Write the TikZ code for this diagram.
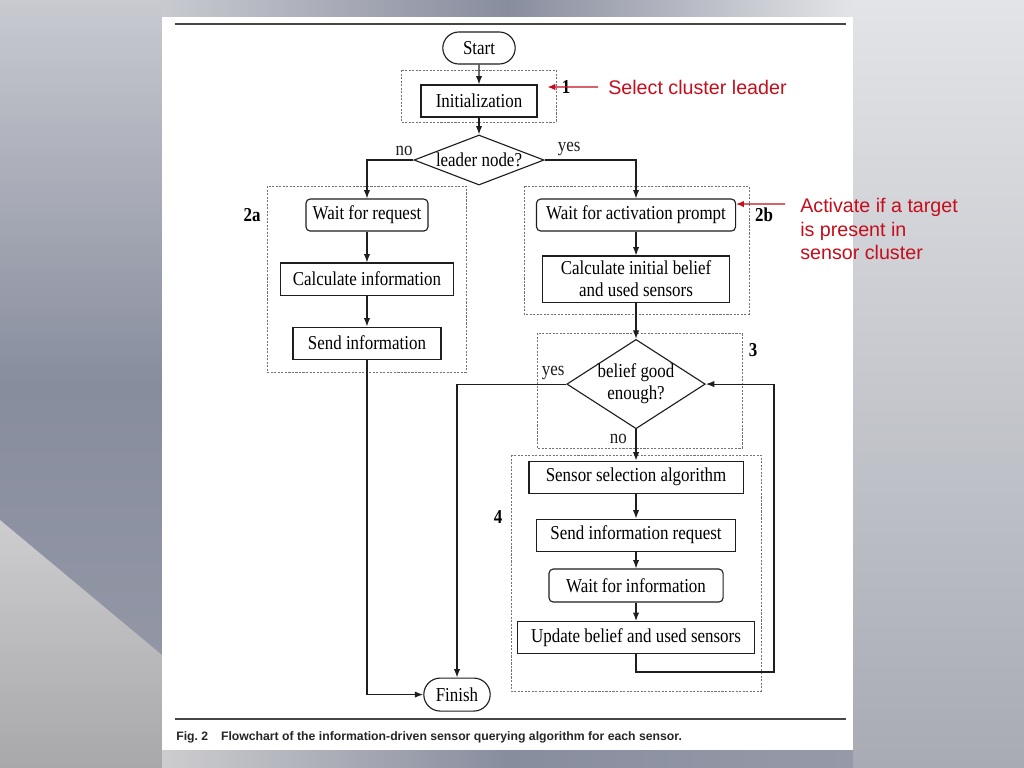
\documentclass[tikz,border=0pt]{standalone}
\usepackage{fontspec}
\setmainfont[FakeStretch=0.86]{Liberation Serif}
\newfontfamily\notefont{Liberation Sans}
\newfontfamily\capfont{Liberation Sans}
\usepackage{tikz}
\usetikzlibrary{arrows,arrows.meta,shapes,positioning}
\usepackage{xcolor}
\definecolor{fcred}{RGB}{196,14,28}
\definecolor{fcline}{RGB}{30,30,30}
\definecolor{fcdash}{RGB}{115,115,115}
\definecolor{fcrule}{RGB}{70,70,70}
\definecolor{bgtopleft}{RGB}{200,202,208}
\definecolor{bgmid}{RGB}{136,141,158}
\definecolor{bglow}{RGB}{150,154,168}
\definecolor{bgright}{RGB}{227,228,231}
\definecolor{bgrightlow}{RGB}{168,171,180}
\definecolor{bgwedge}{RGB}{205,205,207}
\definecolor{bgwedgelow}{RGB}{168,168,171}
\tikzstyle{arrow} = [line width=0.8pt,-{Latex[length=6pt,width=4.5pt]},color=fcline]
\tikzstyle{notearrow} = [line width=0.8pt,-{Latex[length=5.5pt,width=4.5pt]},color=fcred]
\tikzstyle{process} = [rectangle, draw=fcline, line width=0.8pt, minimum height=0.8cm, text centered, align=center, inner sep=2pt]
\tikzstyle{waitbox} = [process, rounded corners=3pt]
\tikzstyle{terminal} = [rounded rectangle, draw=fcline, line width=0.8pt, minimum height=0.8cm, inner sep=2pt]
\tikzstyle{decision} = [diamond, draw=fcline, line width=0.8pt, inner sep=0pt, text centered, align=center]
\tikzstyle{stagebox} = [draw=fcdash, line width=0.5pt, dash pattern=on 1.5pt off 1pt]
\tikzstyle{stagelabel} = [font=\fontsize{14}{15.5}\selectfont\bfseries, inner sep=0pt]
\tikzstyle{note} = [font=\notefont\fontsize{14}{16.7}\selectfont, text=fcred, inner sep=0pt, align=left]

\begin{document}
\begin{tikzpicture}[x=0.025cm, y=-0.025cm, node distance=1.6cm, font=\fontsize{14}{15.5}\selectfont]
% Slide background
\useasboundingbox (0,0) rectangle (1024,768);
\shade[top color=bgtopleft, bottom color=bglow, middle color=bgmid] (0,0) rectangle (162,768);
\shade[top color=bgwedge, bottom color=bgwedgelow] (0,520) -- (162,655) -- (162,768) -- (0,768) -- cycle;
\shade[top color=bgright, bottom color=bgrightlow] (853,0) rectangle (1024,768);
\shade[left color=bgtopleft, right color=bgright, middle color=bgmid] (162,0) rectangle (853,17);
\shade[left color=bgwedge, right color=bglow, middle color=bgmid] (162,750) rectangle (853,768);
\fill[white] (162,17) rectangle (853,750);
\draw[fcrule, line width=1.4pt] (175,24) -- (846,24);
\draw[fcrule, line width=1.4pt] (175,719) -- (846,719);

% Stages
\draw[stagebox] (401,70) rectangle (556,122);
\draw[stagebox] (267,186) rectangle (466,372);
\draw[stagebox] (524,186) rectangle (749,314);
\draw[stagebox] (537,333) rectangle (742,448);
\draw[stagebox] (511,455) rectangle (761,691);
\node (lab1) [stagelabel] at (566,87) {1};
\node (lab2a) [stagelabel] at (252,215) {2a};
\node (lab2b) [stagelabel] at (764,215) {2b};
\node (lab3) [stagelabel] at (753,350) {3};
\node (lab4) [stagelabel] at (498,517) {4};

% Flowchart
\node (start) [terminal, minimum width=1.95cm] at (479,48) {Start};
\node (init) [process, minimum width=2.9cm, below of=start, yshift=0.275cm] {Initialization};
\node (leader) [decision, aspect=2.6, minimum width=3.25cm, minimum height=1.25cm, below of=init, yshift=0.125cm] {leader node?};

\node (waitreq) [waitbox, minimum width=3.05cm, below of=leader, xshift=-2.8cm, yshift=0.225cm] {Wait for request};
\node (calcinfo) [process, minimum width=4.325cm, below of=waitreq] {Calculate information};
\node (sendinfo) [process, minimum width=3.7cm, below of=calcinfo] {Send information};

\node (waitact) [waitbox, minimum width=4.975cm, below of=leader, xshift=3.925cm, yshift=0.225cm] {Wait for activation prompt};
\node (calcbelief) [process, minimum width=4.675cm, minimum height=1.15cm, below of=waitact] {Calculate initial belief\\and used sensors};
\node (belief) [decision, aspect=1.55, minimum width=3.375cm, minimum height=2.175cm, below of=calcbelief, yshift=-1.025cm] {belief good\\enough?};

\node (sensorsel) [process, minimum width=5.35cm, below of=belief, yshift=-0.725cm] {Sensor selection algorithm};
\node (sendreq) [process, minimum width=4.975cm, below of=sensorsel, yshift=0.15cm] {Send information request};
\node (waitinfo) [waitbox, minimum width=4.35cm, minimum height=0.825cm, below of=sendreq, yshift=0.34cm] {Wait for information};
\node (update) [process, minimum width=5.925cm, below of=waitinfo, yshift=0.3cm] {Update belief and used sensors};
\node (finish) [terminal, minimum width=1.8cm, minimum height=0.825cm, below of=update, xshift=-4.475cm, yshift=0.175cm] {Finish};
\coordinate (loopc) at (774,672);

\draw[arrow] (start) -- (init);
\draw[arrow] (init) -- (leader);
\draw[arrow] (leader.west) -| node[pos=0.1, above, inner sep=3pt] {no} (waitreq);
\draw[arrow] (leader.east) -| node[pos=0.135, above, inner sep=3pt] {yes} (waitact);
\draw[arrow] (waitreq) -- (calcinfo);
\draw[arrow] (calcinfo) -- (sendinfo);
\draw[arrow] (waitact) -- (calcbelief);
\draw[arrow] (calcbelief) -- (belief);
\draw[arrow] (belief.west) -| node[pos=0.06, above, inner sep=3pt] {yes} (finish);
\draw[arrow] (belief.south) -- node[pos=0.3, left, xshift=-0.1cm] {no} (sensorsel);
\draw[arrow] (sensorsel) -- (sendreq);
\draw[arrow] (sendreq) -- (waitinfo);
\draw[arrow] (waitinfo) -- (update);
\draw[arrow] (update.south) |- (loopc) |- (belief.east);
\draw[arrow] (sendinfo) |- (finish);

% Notes
\node (selnote) [note, anchor=west] at (608,87) {Select cluster leader};
\node (actnote) [note, anchor=north west] at (800,198) {Activate if a target\\is present in\\sensor cluster};
\draw[notearrow] ([xshift=-0.25cm]selnote.west) -- ([xshift=0.25cm, yshift=0.35cm]init.east);
\draw[notearrow] ([xshift=-0.375cm, yshift=-0.15cm]actnote.north west) -- ([yshift=0.275cm]waitact.east);

% Caption
\node (caption) [anchor=west, inner sep=0pt, font=\capfont\bfseries\fontsize{8.7}{10}\selectfont, text=black!85] at (176,737) {Fig.~2\hspace{0.32cm}Flowchart of the information-driven sensor querying algorithm for each sensor.};
\end{tikzpicture}
\end{document}
